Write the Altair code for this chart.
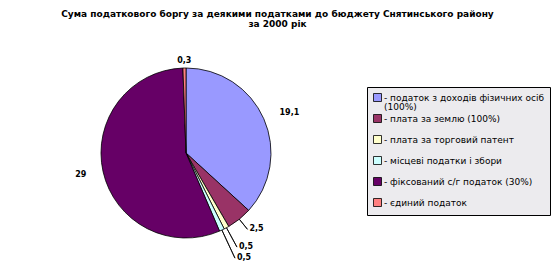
import altair as alt
import pandas as pd

categories = [
    "податок з доходів фізичних осіб (100%)",
    "плата за землю (100%)",
    "плата за торговий патент",
    "місцеві податки і збори",
    "фіксований с/г податок (30%)",
    "єдиний податок",
]
values = [19.1, 2.5, 0.5, 0.5, 29, 0.3]
value_labels = ["19,1", "2,5", "0,5", "0,5", "29", "0,3"]
colors = ["#9999ff", "#993366", "#ffffcc", "#ccffff", "#660066", "#ff8080"]

title_lines = [
    "Сума податкового боргу за деякими податками до бюджету Снятинського району",
    "за 2000 рік",
]
first_label_lines = ["- податок з доходів фізичних осіб", "(100%)"]

df = pd.DataFrame({
    "idx": list(range(len(categories))),
    "cat": categories,
    "v": values,
    "lab": value_labels,
})

R = 85
CX, CY = 186, 123
LEG_X, LEG_Y, LEG_PAD = 367, 57, 6
LABEL_FONT_SIZE = 9

base = alt.Chart(df).transform_joinaggregate(
    total="sum(v)"
).transform_window(
    cum="sum(v)", sort=[alt.SortField("idx")], frame=[None, 0]
).transform_calculate(
    t0="2*PI*(datum.cum - datum.v)/datum.total",
    t1="2*PI*datum.cum/datum.total",
).transform_calculate(
    mid="(datum.t0 + datum.t1)/2",
).transform_calculate(
    small="datum.v < 3 && datum.mid > PI/2 && datum.mid < 3*PI/2 ? 1 : 0",
).transform_calculate(
    lr="datum.small == 1 ? 98 + 9*(datum.idx - 1) : (datum.mid > 3*PI/2 + 1.4 ? 92 : 100)",
    lr0=str(R),
    note="'" + first_label_lines[1] + "'",
)

pie = base.mark_arc(outerRadius=R, stroke="black", strokeWidth=0.8).encode(
    theta=alt.Theta("t0:Q", scale=None),
    theta2="t1:Q",
    x=alt.value(CX),
    y=alt.value(CY),
    color=alt.Color(
        "cat:N",
        scale=alt.Scale(domain=categories, range=colors),
        sort=categories,
        legend=alt.Legend(
            title=None,
            orient="none",
            legendX=LEG_X,
            legendY=LEG_Y,
            fillColor="#ecebee",
            strokeColor="black",
            padding=LEG_PAD,
            symbolType="square",
            symbolSize=64,
            symbolStrokeColor="black",
            symbolStrokeWidth=0.8,
            symbolOffset=0,
            labelFont="DejaVu Sans",
            labelFontSize=LABEL_FONT_SIZE,
            labelColor="black",
            labelLimit=200,
            labelOffset=2,
            rowPadding=8,
            labelExpr="datum.label == '" + categories[0] + "' ? '" + first_label_lines[0] + "' : '- ' + datum.label",
        ),
    ),
)

leaders = base.transform_filter("datum.small == 1").mark_arc(
    stroke="black", strokeWidth=0.8, fill=None
).encode(
    theta=alt.Theta("mid:Q", scale=None),
    theta2="mid:Q",
    radius=alt.Radius("lr0:Q", scale=None),
    radius2="lr:Q",
    x=alt.value(CX),
    y=alt.value(CY),
)

txt_style = dict(font="DejaVu Sans", fontSize=8, fontWeight="bold", color="black")

right_labels = base.transform_filter(
    "datum.mid > 0.2 && datum.mid < PI"
).mark_text(align="left", baseline="middle", dx=2, **txt_style).encode(
    theta=alt.Theta("mid:Q", scale=None),
    radius=alt.Radius("lr:Q", scale=None),
    text="lab:N",
    x=alt.value(CX),
    y=alt.value(CY),
)

left_labels = base.transform_filter(
    "datum.mid >= PI && datum.mid < 2*PI - 0.2"
).mark_text(align="right", baseline="middle", dx=-2, **txt_style).encode(
    theta=alt.Theta("mid:Q", scale=None),
    radius=alt.Radius("lr:Q", scale=None),
    text="lab:N",
    x=alt.value(CX),
    y=alt.value(CY),
)

# top label; also carries the second line of the first legend entry
top_labels = base.transform_filter(
    "datum.mid >= 2*PI - 0.2 || datum.mid <= 0.2"
).mark_text(align="center", baseline="middle", **txt_style).encode(
    theta=alt.Theta("mid:Q", scale=None),
    radius=alt.Radius("lr:Q", scale=None),
    text="lab:N",
    x=alt.value(CX),
    y=alt.value(CY),
    opacity=alt.Opacity(
        "note:N",
        scale=alt.Scale(domain=[first_label_lines[1]], range=[1]),
        legend=alt.Legend(
            title=None,
            orient="none",
            legendX=LEG_X + LEG_PAD + 8 + 2 - 8,
            legendY=LEG_Y + LEG_PAD + 9,
            padding=0,
            symbolSize=0,
            symbolOpacity=0,
            symbolStrokeWidth=0,
            symbolOffset=0,
            labelOffset=0,
            labelFont="DejaVu Sans",
            labelFontSize=LABEL_FONT_SIZE,
            labelColor="black",
        ),
    ),
)

chart = alt.layer(pie, leaders, right_labels, left_labels, top_labels).properties(
    width=555,
    height=240,
    padding={"left": 0, "top": 30, "right": 0, "bottom": 0},
    autosize=alt.AutoSizeParams(type="none"),
    background="white",
    title=alt.TitleParams(
        text=title_lines,
        font="DejaVu Sans",
        fontSize=9,
        fontWeight="bold",
        lineHeight=10,
        anchor="middle",
        offset=1,
        color="black",
    ),
).configure_view(stroke=None)

chart.save("out.html", embed_options={"renderer": "svg", "actions": False})
